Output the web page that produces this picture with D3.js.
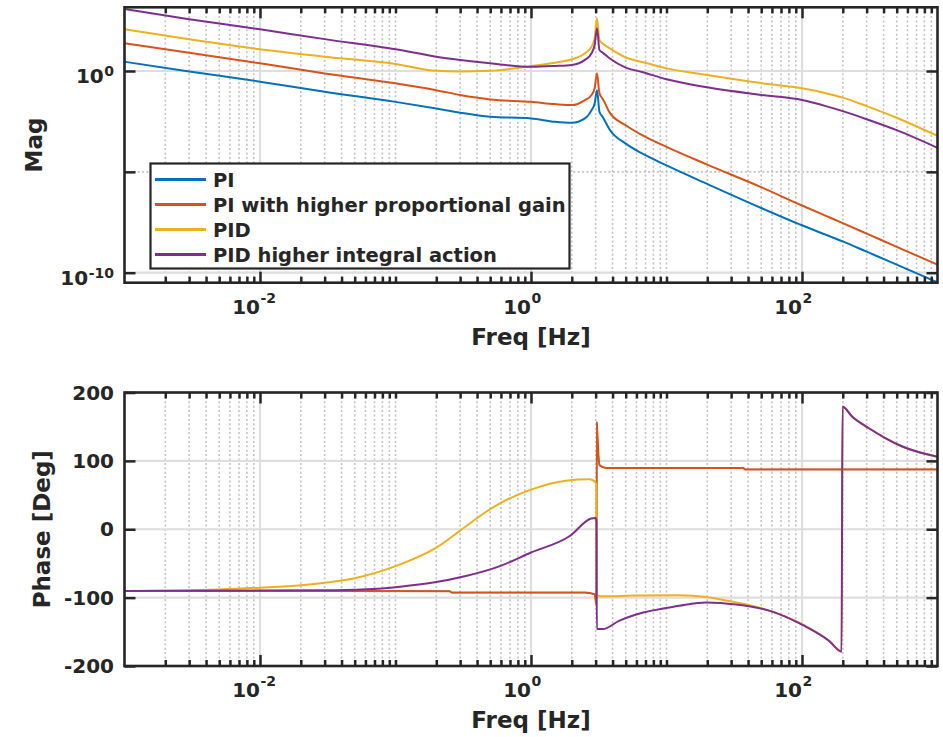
<!DOCTYPE html>
<html><head><meta charset="utf-8">
<script src="https://cdn.jsdelivr.net/npm/d3@7"></script>
<style>
body{margin:0;background:#fff;}
svg text{font-family:"DejaVu Sans",sans-serif;font-weight:bold;fill:#262626;}
</style></head><body>
<svg id="chart" width="943" height="737"></svg>
<script>
// ---------------- DATA ----------------
const seriesNames = ["PI","PI with higher proportional gain","PID","PID higher integral action"];
const seriesColors = ["#0072BD","#D95319","#EDB120","#7E2F8E"];

// Magnitude (top panel), shared frequency grid [Hz]
const magFreq = [0.001,0.003,0.01,0.03,0.1,0.2,0.3,0.5,1,1.5,2,2.5,2.8,2.95,3.07,3.2,3.4,3.8,5,6.6,10,20,50,100,150,200,300,500,1000];
const magPI   = [2.88,0.955,0.295,0.0933,0.0295,0.0138,0.00851,0.00537,0.00447,0.00302,0.00269,0.00447,0.0115,0.0245,0.112,0.00955,0.00501,0.00126,2.51e-4,8.13e-5,2.09e-5,2.51e-6,1.62e-7,2.24e-8,7.59e-9,3.55e-9,1.10e-9,2.51e-10,3.31e-11];
const magPIhp = [24.0,7.94,2.40,0.759,0.245,0.112,0.0646,0.0389,0.0295,0.0229,0.0204,0.0363,0.0646,0.138,0.776,0.0776,0.0398,0.00891,0.00204,6.61e-4,1.74e-4,2.29e-5,1.74e-6,2.14e-7,6.61e-8,2.88e-8,8.71e-9,1.91e-9,2.51e-10];
const magPID  = [117,37.2,12.0,5.13,2.24,1.02,0.933,1.02,1.74,2.57,3.80,7.59,16.2,42.7,417,34.7,22.4,13.5,4.68,2.82,1.35,0.631,0.251,0.138,0.0794,0.0479,0.0182,0.00479,6.03e-4];
const magPIDi = [1175,372,117,38.0,12.0,5.13,3.55,2.40,1.62,1.78,2.00,3.55,7.59,19.5,132,11.0,7.94,4.27,1.48,0.891,0.389,0.155,0.0646,0.0363,0.0182,0.0102,0.00407,0.00117,1.55e-4];

// Phase (bottom panel) [deg]
const phFreqPI   = [0.001,0.25,0.26,2.5,2.95,3.04,3.06,3.1,3.2,3.6,10,37,38,1000];
const phPI       = [-90.3,-90.5,-92.6,-92.6,-95,-110,157,133,94,89.4,89.4,89.4,87.5,87.5];
const phPIhp     = [-90.3,-90.5,-92.6,-92.6,-95,-110,157,133,94,89.4,89.4,89.4,87.5,87.5];
const phFreqPID  = [0.001,0.005,0.01,0.02,0.031,0.049,0.1,0.2,0.3,0.47,0.59,1.0,1.8,2.7,2.95,3.04,3.06,3.1,3.3,6,12.4,19.6,32.6,57.3,101,158,196,199,235,312,415,550,1000];
const phPID      = [-90.3,-88,-85.4,-82,-78,-72,-54,-27,-2,26,38,58,71,73,70,65,-100,-97,-98,-97,-96.5,-99,-107,-119,-139,-163,-178,179,164.6,147.7,133,121,106];
const phFreqPIDi = [0.001,0.028,0.061,0.108,0.19,0.33,0.59,1.0,1.92,2.78,3.0,3.04,3.06,3.39,4.46,5.97,12.4,19.6,32.6,57.3,101,158,196,199,235,312,415,550,1000];
const phPIDi     = [-90.3,-89.3,-87.8,-84,-78,-68.4,-53.9,-34,-10.2,15.6,16.6,12,-146,-146,-134,-124.7,-112,-107,-110,-119,-140,-163,-179,179,164.6,147.7,133,121,106];

// Axis ticks
const xMajorTicks = [1e-2,1e0,1e2];
const xMajorExp   = ["-2","0","2"];
const magTicks    = [1e-10,1e-5,1e0];
const magTickExp  = ["-10","","0"];
const phTicks     = [-200,-100,0,100,200];
const xLabel = "Freq [Hz]";
const magLabel = "Mag";
const phLabel = "Phase [Deg]";

// ---------------- DRAW ----------------
const svg = d3.select("#chart");
const L = 124.5, R = 937.5;
const top1 = 7.3, bot1 = 282.7, top2 = 392.5, bot2 = 666;
const axisCol = "#262626";

const x = d3.scaleLog().domain([1e-3,1e3]).range([L,R]);
const yMag = d3.scaleLog().domain([1e-10,1]).range([272.7,71]);
const yPh = d3.scaleLinear().domain([-200,200]).range([bot2,top2]);

// minor x ticks
const xMinor = [];
for (let d=-3; d<=2; d++) for (let m=1; m<=9; m++) {
  const v = m*Math.pow(10,d);
  if (v<=1e-3 || v>=1e3) continue;
  if (xMajorTicks.some(t=>Math.abs(t-v)/t<1e-9)) continue;
  xMinor.push(v);
}

const defs = svg.append("defs");
[["c1",top1,bot1],["c2",top2,bot2]].forEach(([id,t,b])=>{
  defs.append("clipPath").attr("id",id).append("rect").attr("x",L).attr("y",t).attr("width",R-L).attr("height",b-t);
});

function panel(t,b,yScale,yMajor,yMinorDotted,yLabels,clipId,series,ylabel,ylabelX){
  const g = svg.append("g");
  g.append("rect").attr("x",L).attr("y",t).attr("width",R-L).attr("height",b-t).attr("fill","#fff");
  // minor grid (dotted)
  g.selectAll(null).data(xMinor).enter().append("line")
    .attr("x1",d=>x(d)).attr("x2",d=>x(d)).attr("y1",t).attr("y2",b)
    .attr("stroke","#c4c4c4").attr("stroke-width",1.6).attr("stroke-dasharray","2,2.4");
  g.selectAll(null).data(yMinorDotted).enter().append("line")
    .attr("y1",d=>yScale(d)).attr("y2",d=>yScale(d)).attr("x1",L).attr("x2",R)
    .attr("stroke","#c4c4c4").attr("stroke-width",1.6).attr("stroke-dasharray","2,2.4");
  // major grid (solid)
  g.selectAll(null).data(xMajorTicks).enter().append("line")
    .attr("x1",d=>x(d)).attr("x2",d=>x(d)).attr("y1",t).attr("y2",b)
    .attr("stroke","#dedede").attr("stroke-width",2.2);
  g.selectAll(null).data(yMajor.filter(v=>!yMinorDotted.includes(v))).enter().append("line")
    .attr("y1",d=>yScale(d)).attr("y2",d=>yScale(d)).attr("x1",L).attr("x2",R)
    .attr("stroke","#dedede").attr("stroke-width",2.2);
  // data
  const line = d3.line().x(d=>x(d[0])).y(d=>yScale(d[1])).curve(d3.curveMonotoneX);
  const pg = g.append("g").attr("clip-path",`url(#${clipId})`);
  series.forEach((s,i)=>{
    pg.append("path").datum(s.f.map((f,k)=>[f,s.v[k]])).attr("d",line)
      .attr("fill","none").attr("stroke",seriesColors[i]).attr("stroke-width",s.w||2).attr("stroke-linejoin","round");
  });
  // ticks via d3 axes (inward)
  const mk = (axisFn, scale, vals, size, transform) => {
    const a = g.append("g").attr("transform",transform)
      .call(axisFn(scale).tickValues(vals).tickSizeInner(size).tickSizeOuter(0).tickFormat(""));
    a.select(".domain").remove();
    a.selectAll(".tick line").attr("stroke",axisCol).attr("stroke-width",2.5);
  };
  mk(d3.axisBottom, x, xMinor, -6, `translate(0,${b})`);
  mk(d3.axisBottom, x, xMajorTicks, -11, `translate(0,${b})`);
  mk(d3.axisTop, x, xMinor, -6, `translate(0,${t})`);
  mk(d3.axisTop, x, xMajorTicks, -11, `translate(0,${t})`);
  mk(d3.axisLeft, yScale, yMajor, -11, `translate(${L},0)`);
  mk(d3.axisRight, yScale, yMajor, -11, `translate(${R},0)`);
  // box
  g.append("rect").attr("x",L).attr("y",t).attr("width",R-L).attr("height",b-t)
    .attr("fill","none").attr("stroke",axisCol).attr("stroke-width",2.6);
  // x tick labels with superscript
  xMajorTicks.forEach((v,i)=>{
    const px = x(v);
    g.append("text").attr("x",px).attr("y",b+31).attr("text-anchor","end").attr("font-size",20).text("10");
    g.append("text").attr("x",px+0.5).attr("y",b+20).attr("text-anchor","start").attr("font-size",14).text(xMajorExp[i]);
  });
  // y tick labels
  yLabels(g);
  // axis labels
  g.append("text").attr("x",(L+R)/2).attr("y",b+62).attr("text-anchor","middle").attr("font-size",23).text(xLabel);
  g.append("text").attr("transform",`translate(${ylabelX},${(t+b)/2}) rotate(-90)`).attr("text-anchor","middle").attr("font-size",23).text(ylabel);
}

// top panel
panel(top1,bot1,yMag,magTicks,[1e-5],(g)=>{
  magTicks.forEach((v,i)=>{
    if(!magTickExp[i]) return;
    const py = yMag(v);
    const sup = g.append("text").attr("x",114).attr("y",py+5).attr("text-anchor","end").attr("font-size",14).text(magTickExp[i]);
    const w = sup.node().getComputedTextLength();
    g.append("text").attr("x",114-w-0.5).attr("y",py+12).attr("text-anchor","end").attr("font-size",20).text("10");
  });
},"c1",[
  {f:magFreq,v:magPI},{f:magFreq,v:magPIhp},{f:magFreq,v:magPID},{f:magFreq,v:magPIDi}
],magLabel,42);

// bottom panel (PI phase lies exactly under the orange curve)
panel(top2,bot2,yPh,phTicks,[],(g)=>{
  phTicks.forEach(v=>{
    g.append("text").attr("x",114).attr("y",yPh(v)+7).attr("text-anchor","end").attr("font-size",20).text(v);
  });
},"c2",[
  {f:phFreqPI,v:phPI,w:1.2},{f:phFreqPI,v:phPIhp},{f:phFreqPID,v:phPID},{f:phFreqPIDi,v:phPIDi}
],phLabel,50);

// legend
const lg = svg.append("g");
lg.append("rect").attr("x",150.5).attr("y",163.5).attr("width",419).attr("height",105)
  .attr("fill","#fff").attr("stroke",axisCol).attr("stroke-width",2.2);
seriesNames.forEach((n,i)=>{
  const cy = 179.5 + i*25;
  lg.append("line").attr("x1",155).attr("x2",206).attr("y1",cy).attr("y2",cy)
    .attr("stroke",seriesColors[i]).attr("stroke-width",3);
  lg.append("text").attr("x",213).attr("y",cy+7).attr("font-size",19.5).text(n);
});
</script>
</body></html>
